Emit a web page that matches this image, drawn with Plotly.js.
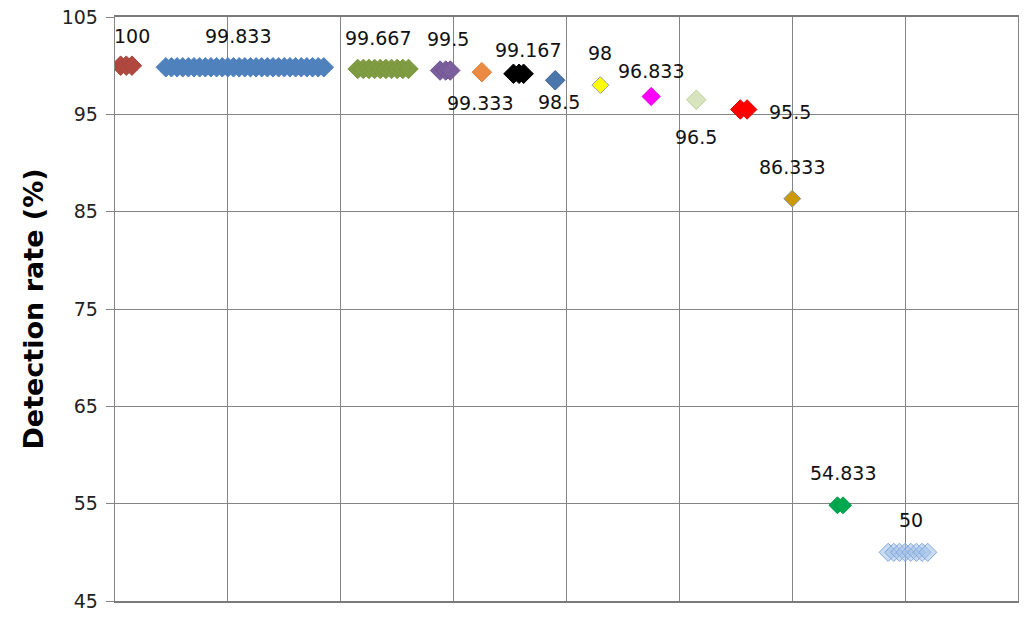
<!DOCTYPE html>
<html>
<head>
<meta charset="utf-8">
<script src="https://cdn.plot.ly/plotly-3.0.1.min.js"></script>
<style>
  body { margin: 0; background: #fff; }
  #chart { width: 1024px; height: 619px; }
</style>
</head>
<body>
<div id="chart"></div>
<script>
// Detection rate (%) for each group of runs
var rates = [100, 99.833, 99.667, 99.5, 99.333, 99.167, 98.5, 98, 96.833, 96.5, 95.5, 86.333, 54.833, 50];

// x position of every run in each group (unlabelled x axis)
var groupX = [
    [0.05, 0.1, 0.15],
    [0.45, 0.5, 0.55, 0.6, 0.65, 0.7, 0.75, 0.8, 0.85, 0.9, 0.95, 1.0, 1.05, 1.1, 1.15,
     1.2, 1.25, 1.3, 1.35, 1.4, 1.45, 1.5, 1.55, 1.6, 1.65, 1.7, 1.75, 1.8, 1.85],
    [2.15, 2.2, 2.25, 2.3, 2.35, 2.4, 2.45, 2.5, 2.55, 2.6],
    [2.88, 2.93, 2.97],
    [3.25],
    [3.53, 3.58, 3.62],
    [3.9],
    [4.3],
    [4.75],
    [5.15],
    [5.54, 5.6],
    [6.0],
    [6.4, 6.45],
    [6.85, 6.9, 6.95, 7.0, 7.05, 7.1, 7.15, 7.2]
];

/***** Styles *******/
var fills = ['#B0483F', '#4F81BD', '#7F9C42', '#7B5E9C', '#EB8A40', '#000000', '#4A76AB',
             '#FFFF00', '#FF00FF', '#D7E4BD', '#FF0000', '#CC9900', '#00A84F', 'rgba(160,192,232,0.55)'];
var borders = ['#A8443C', '#4F81BD', '#7A963F', '#6E5590', '#D97A34', '#000000', '#3C6594',
               '#8DA2B5', '#E000E0', '#BFD09F', '#E00000', '#7F96B2', '#009945', '#7FA7DA'];
var sizes = [15, 15, 15, 15, 15, 15, 15, 13, 14, 15, 15, 13, 13, 14];
// which point carries the label, and the label offset in pixels
var labelAt = [2, 13, 4, 1, 0, 2, 0, 0, 0, 0, 1, 0, 1, 4];
var labelDx = [0, -1, -2, 2, -2, 4, 4, 0, 0, 0, 43, 0, 0, 0];
var labelDy = [30, 31, 31, 32, -31, 24, -22, 32, 25, -37, -3, 32, 32, 32];

var traces = [];
var notes = [];
for (var i = 0; i < rates.length; i++) {
    traces.push({
        x: groupX[i],
        y: groupX[i].map(function () { return rates[i]; }),
        type: 'scatter',
        mode: 'markers',
        name: String(rates[i]),
        marker: {
            symbol: 'diamond',
            size: sizes[i],
            color: fills[i],
            line: {color: borders[i], width: 1}
        },
        hoverinfo: 'y'
    });
    notes.push({
        x: groupX[i][labelAt[i]],
        y: rates[i],
        text: String(rates[i]),
        showarrow: false,
        xanchor: 'center',
        yanchor: 'middle',
        xshift: labelDx[i],
        yshift: labelDy[i],
        font: {family: 'DejaVu Sans, Verdana, sans-serif', size: 19, color: '#111'}
    });
}

var layout = {
    width: 1024,
    height: 619,
    margin: {l: 115, r: 6, t: 17, b: 18},
    paper_bgcolor: '#fff',
    plot_bgcolor: '#fff',
    showlegend: false,
    font: {family: 'DejaVu Sans, Verdana, sans-serif', size: 19, color: '#222'},
    xaxis: {
        range: [0, 8],
        dtick: 1,
        showticklabels: false,
        ticks: '',
        showgrid: true,
        gridcolor: '#848484',
        gridwidth: 1,
        zeroline: false,
        showline: true,
        linecolor: '#7a7a7a',
        linewidth: 1.6,
        mirror: true
    },
    yaxis: {
        range: [45, 105],
        dtick: 10,
        tick0: 45,
        ticks: 'outside',
        ticklen: 8,
        tickcolor: '#848484',
        ticklabelstandoff: 4,
        showgrid: true,
        gridcolor: '#848484',
        gridwidth: 1,
        zeroline: false,
        showline: true,
        linecolor: '#848484',
        linewidth: 1.3,
        mirror: true,
        title: {
            text: 'Detection rate (%)',
            standoff: 10,
            font: {family: 'DejaVu Sans, Verdana, sans-serif', size: 27, color: '#000', weight: 'bold'}
        }
    },
    annotations: notes
};

Plotly.newPlot('chart', traces, layout, {displayModeBar: false, staticPlot: true});
</script>
</body>
</html>
